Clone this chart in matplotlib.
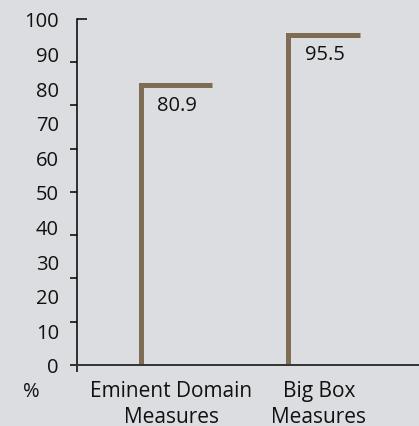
import matplotlib.pyplot as plt
import numpy as np
from matplotlib.ticker import FixedLocator, NullFormatter

plt.rcParams['font.family'] = ['Open Sans', 'DejaVu Sans']

categories = ['Eminent Domain\nMeasures', 'Big Box\nMeasures']
values = [80.9, 95.5]
value_labels = ['80.9', '95.5']
y_ticks = list(range(0, 101, 10))

bg = '#dcdde0'
bar_color = '#7f6c55'
ink = '#111111'
arm = 0.488          # length of the horizontal cap, in category units

fig = plt.figure(figsize=(4.19, 4.27), dpi=100, facecolor=bg)
ax = fig.add_axes([0.1838, 0.1429, 0.8162, 0.8103], facecolor=bg)

x = np.arange(len(values))
for xi, v, lab in zip(x, values, value_labels):
    # each bar is an inverted L: a post plus a cap running right
    ax.plot([xi, xi, xi + arm], [0, v, v], color=bar_color, lw=3.6,
            solid_joinstyle='miter', solid_capstyle='butt')
    ax.annotate(lab, (xi, v), xytext=(12, -7), textcoords='offset points',
                ha='left', va='top', fontsize=14.5, color=ink)

ax.set_xlim(-0.4305, 1.888)
ax.set_ylim(0, 100)

ax.set_xticks(x + 0.21)
ax.set_xticklabels(categories, fontsize=15, linespacing=1.3, color=ink)
ax.tick_params(axis='x', which='major', length=0, pad=11)
ax.xaxis.set_minor_locator(FixedLocator([-0.4305]))
ax.tick_params(axis='x', which='minor', length=5, width=1.1, direction='out')

ax.set_yticks(y_ticks)
ax.tick_params(axis='y', which='major', length=0, pad=13, labelsize=14.5,
               labelcolor=ink)
ax.yaxis.set_minor_locator(FixedLocator(np.arange(0, 100, 12.5)))
ax.yaxis.set_minor_formatter(NullFormatter())
ax.yaxis.remove_overlapping_locs = False
ax.tick_params(axis='y', which='minor', length=5, width=1.1, direction='out')

# small inward tick at the top of the axis
sec = ax.secondary_yaxis('left')
sec.set_yticks([100])
sec.tick_params(direction='in', length=7, width=1.1, labelleft=False)
sec.spines['left'].set_visible(False)

for side in ['top', 'right']:
    ax.spines[side].set_visible(False)
ax.spines['left'].set_linewidth(1.1)
ax.spines['bottom'].set_linewidth(1.4)
ax.spines['bottom'].set_color('#333333')

fig.text(31 / 419, 1 - 392 / 427, '%', fontsize=14.5, ha='center', va='center',
         color=ink)

fig.savefig('out.png', dpi=100, facecolor=bg)
